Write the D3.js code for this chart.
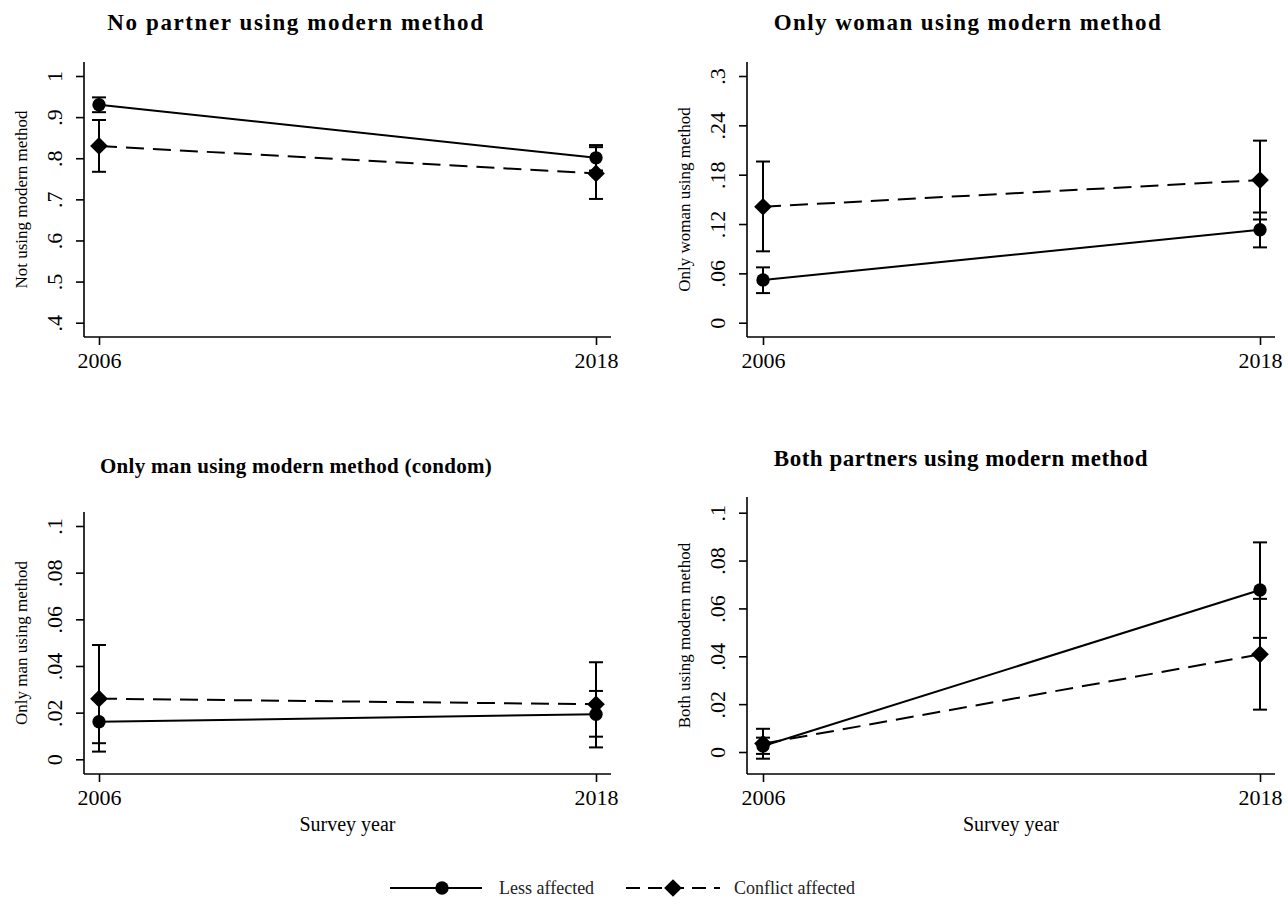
<!DOCTYPE html>
<html><head><meta charset="utf-8">
<script src="https://cdn.jsdelivr.net/npm/d3@7"></script>
<style>
body{margin:0;background:#fff;}
svg{display:block;}
text{font-family:"Liberation Serif","Times New Roman",serif;fill:#000;}
</style></head>
<body>
<svg id="chart" width="1288" height="904"></svg>
<script>
// ---------- DATA ----------
const years = [2006, 2018];
const panelTitles = [
  "No partner using modern method",
  "Only woman using modern method",
  "Only man using modern method (condom)",
  "Both partners using modern method"
];
const yTitles = [
  "Not using modern method",
  "Only woman using method",
  "Only man using method",
  "Both using modern method"
];
const seriesNames = ["Less affected", "Conflict affected"];

// Less affected: estimate, lower CI, upper CI (2006, 2018)
const lessEst  = [[0.930, 0.801], [0.052, 0.113], [0.0161, 0.0193], [0.0025, 0.0677]];
const lessLow  = [[0.912, 0.770], [0.036, 0.0916], [0.0069, 0.0097], [-0.0008, 0.0477]];
const lessHigh = [[0.948, 0.832], [0.0673, 0.134], [0.0254, 0.0293], [0.0060, 0.0876]];
// Conflict affected
const confEst  = [[0.830, 0.763], [0.141, 0.1735], [0.0260, 0.0236], [0.0035, 0.0408]];
const confLow  = [[0.767, 0.701], [0.0868, 0.1255], [0.0033, 0.0051], [-0.0028, 0.0177]];
const confHigh = [[0.893, 0.827], [0.196, 0.2214], [0.0490, 0.0416], [0.0097, 0.0640]];

const yTicks = [
  [0.4, 0.5, 0.6, 0.7, 0.8, 0.9, 1],
  [0, 0.06, 0.12, 0.18, 0.24, 0.3],
  [0, 0.02, 0.04, 0.06, 0.08, 0.1],
  [0, 0.02, 0.04, 0.06, 0.08, 0.1]
];
const yTickLabels = [
  [".4", ".5", ".6", ".7", ".8", ".9", "1"],
  ["0", ".06", ".12", ".18", ".24", ".3"],
  ["0", ".02", ".04", ".06", ".08", ".1"],
  ["0", ".02", ".04", ".06", ".08", ".1"]
];
const xTickLabels = ["2006", "2018"];
const xTitle = "Survey year";

// ---------- LAYOUT ----------
const layout = [
  {left:84, right:611, top:62, bottom:337, yTop:76, yBot:322.7, x0:99, x1:596, tx:296, ty:30, fs:23, ls:1.6, showX:false},
  {left:747, right:1275, top:62, bottom:337, yTop:76, yBot:322.7, x0:763, x1:1260, tx:968, ty:30, fs:23, ls:1.4, showX:false},
  {left:84, right:611, top:512, bottom:774, yTop:526, yBot:759.3, x0:99, x1:596, tx:296, ty:473, fs:21, ls:0.3, showX:true},
  {left:747, right:1275, top:497, bottom:774, yTop:512.7, yBot:752, x0:763, x1:1260, tx:961, ty:466, fs:23, ls:0.5, showX:true}
];

const svg = d3.select("#chart");
const DASH = "18,9";

layout.forEach((L, i) => {
  const g = svg.append("g");
  const ticks = yTicks[i];
  const y = d3.scaleLinear().domain([ticks[0], ticks[ticks.length-1]]).range([L.yBot, L.yTop]);
  const x = d3.scaleLinear().domain([years[0], years[1]]).range([L.x0, L.x1]);

  // title
  g.append("text").attr("x", L.tx).attr("y", L.ty).attr("text-anchor", "middle")
    .style("font-size", L.fs + "px").style("font-weight", "bold").style("letter-spacing", L.ls + "px")
    .text(panelTitles[i]);

  // axis lines
  g.append("line").attr("x1", L.left).attr("x2", L.left).attr("y1", L.top).attr("y2", L.bottom)
    .attr("stroke", "#000").attr("stroke-width", 1.6);
  g.append("line").attr("x1", L.left).attr("x2", L.right).attr("y1", L.bottom).attr("y2", L.bottom)
    .attr("stroke", "#000").attr("stroke-width", 1.6);

  // y axis
  const yAxis = d3.axisLeft(y).tickValues(ticks).tickSize(8).tickSizeOuter(0)
    .tickFormat((d, k) => yTickLabels[i][k]);
  const ya = g.append("g").attr("transform", `translate(${L.left},0)`).call(yAxis);
  ya.select(".domain").remove();
  ya.selectAll(".tick line").attr("stroke", "#000").attr("stroke-width", 1.6);
  ya.selectAll(".tick text")
    .attr("x", null).attr("dy", null)
    .attr("transform", "translate(-22,0) rotate(-90)")
    .attr("text-anchor", "middle")
    .style("font-size", "22px").style("font-family", '"Liberation Serif",serif');

  // x axis
  const xAxis = d3.axisBottom(x).tickValues(years).tickSize(8).tickSizeOuter(0)
    .tickFormat((d, k) => xTickLabels[k]);
  const xa = g.append("g").attr("transform", `translate(0,${L.bottom})`).call(xAxis);
  xa.select(".domain").remove();
  xa.selectAll(".tick line").attr("stroke", "#000").attr("stroke-width", 1.6);
  xa.selectAll(".tick text").attr("dy", null).attr("y", 31)
    .style("font-size", "22px").style("font-family", '"Liberation Serif",serif');

  // y title
  const cy = (L.top + L.bottom) / 2;
  const ytx = L.left - 57;
  g.append("text").attr("transform", `translate(${ytx},${cy}) rotate(-90)`)
    .attr("text-anchor", "middle").style("font-size", "17px").text(yTitles[i]);

  if (L.showX) {
    g.append("text").attr("x", (L.left + L.right) / 2).attr("y", L.bottom + 57)
      .attr("text-anchor", "middle").style("font-size", "20px").text(xTitle);
  }

  const series = [
    {est: lessEst[i], lo: lessLow[i], hi: lessHigh[i], dash: null, marker: "circle"},
    {est: confEst[i], lo: confLow[i], hi: confHigh[i], dash: DASH, marker: "diamond"}
  ];

  series.forEach(s => {
    // CI bars
    years.forEach((yr, k) => {
      const cx = x(yr);
      g.append("line").attr("x1", cx).attr("x2", cx).attr("y1", y(s.lo[k])).attr("y2", y(s.hi[k]))
        .attr("stroke", "#000").attr("stroke-width", 2);
      [s.lo[k], s.hi[k]].forEach(v => {
        g.append("line").attr("x1", cx - 7).attr("x2", cx + 7).attr("y1", y(v)).attr("y2", y(v))
          .attr("stroke", "#000").attr("stroke-width", 2);
      });
    });
    // connecting line
    const line = d3.line().x((d, k) => x(years[k])).y(d => y(d));
    g.append("path").attr("d", line(s.est)).attr("fill", "none").attr("stroke", "#000")
      .attr("stroke-width", 2).attr("stroke-dasharray", s.dash);
    // markers
    const sym = s.marker === "circle" ? d3.symbol().type(d3.symbolCircle).size(140)
                                      : d3.symbol().type(d3.symbolDiamond2).size(200);
    s.est.forEach((v, k) => {
      g.append("path").attr("d", sym()).attr("transform", `translate(${x(years[k])},${y(v)})`)
        .attr("fill", "#000");
    });
  });
});

// ---------- LEGEND ----------
const leg = svg.append("g");
const legY = 888;
const legItems = [
  {x1: 390, x2: 482, mx: 442, tx: 499, dash: null, marker: d3.symbolCircle, size: 140},
  {x1: 626, x2: 720, mx: 673, tx: 734, dash: "14,8", marker: d3.symbolDiamond2, size: 200}
];
legItems.forEach((it, k) => {
  leg.append("line").attr("x1", it.x1).attr("x2", it.x2).attr("y1", legY).attr("y2", legY)
    .attr("stroke", "#000").attr("stroke-width", 2).attr("stroke-dasharray", it.dash);
  leg.append("path").attr("d", d3.symbol().type(it.marker).size(it.size)())
    .attr("transform", `translate(${it.mx},${legY})`).attr("fill", "#000");
  leg.append("text").attr("x", it.tx).attr("y", legY + 6).style("font-size", "18px")
    .style("fill", "#222").text(seriesNames[k]);
});
</script>
</body></html>
